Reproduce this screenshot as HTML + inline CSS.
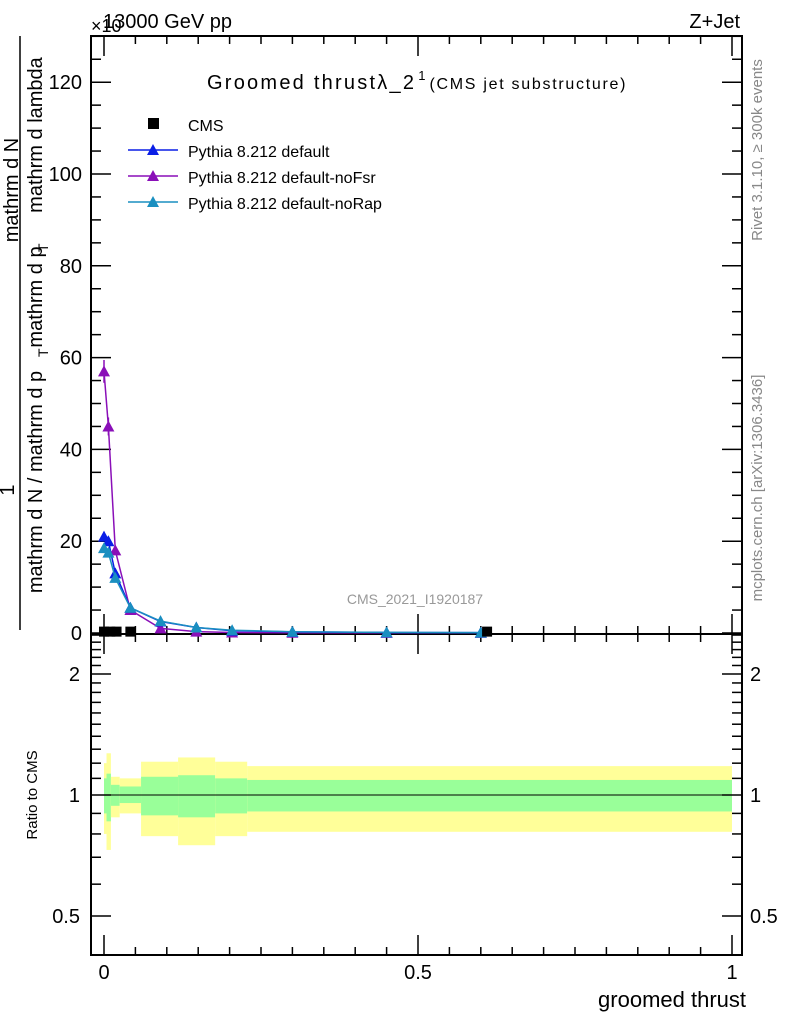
<!DOCTYPE html>
<html><head><meta charset="utf-8"><style>
body{margin:0;background:#fff}
svg{font-family:"Liberation Sans",sans-serif}
</style></head><body>
<svg id="c" width="786" height="1024" xmlns="http://www.w3.org/2000/svg"></svg>
<script>
const xCenters=[0.0,0.007,0.018,0.042,0.09,0.147,0.204,0.3,0.45,0.6];
const purpleVals=[57,45,18,5,1,0.3,0.1,0.05,0.03,0.02];
const blueVals=[21,20,13,5.5,2.5,1.2,0.5,0.25,0.12,0.08];
const cyanVals=[18.5,17.5,12,5.5,2.6,1.2,0.6,0.28,0.13,0.09];
const cmsX=[0.0,0.01,0.02,0.042,0.61];
const cmsVals=[0.3,0.3,0.3,0.3,0.3];
const binEdges=[0,0.004,0.011,0.025,0.059,0.118,0.177,0.228,1];
const yelHi=[1.2,1.27,1.11,1.1,1.21,1.24,1.21,1.18];
const yelLo=[0.8,0.73,0.88,0.9,0.79,0.75,0.79,0.81];
const grnHi=[1.1,1.13,1.06,1.05,1.11,1.12,1.1,1.09];
const grnLo=[0.9,0.86,0.94,0.955,0.89,0.88,0.9,0.91];
const yTicks=[0,20,40,60,80,100,120];
const xTicks=[0,0.5,1];
const xTickLabels=["0","0.5","1"];
const rTicks=[0.5,1,2];

const NS="http://www.w3.org/2000/svg";
const svg=document.getElementById('c');
const L=91,R=742,T=36,MB=634,RB=955;
const X=v=>104+628*v;
const Y=v=>633-4.59*v;
const RY=r=>795-121*Math.log2(r);
function mk(t,a,p){const e=document.createElementNS(NS,t);for(const k in a)e.setAttribute(k,a[k]);(p||svg).appendChild(e);return e;}
function txt(s,x,y,a,p){const e=mk('text',Object.assign({x:x,y:y},a||{}),p);e.textContent=s;return e;}

for(let i=0;i<binEdges.length-1;i++){
 const x0=X(binEdges[i]),x1=X(binEdges[i+1]);
 let e=mk('rect',{x:x0,y:RY(yelHi[i]),width:x1-x0,height:RY(yelLo[i])-RY(yelHi[i]),fill:'#ffff99'});
 
 e=mk('rect',{x:x0,y:RY(grnHi[i]),width:x1-x0,height:RY(grnLo[i])-RY(grnHi[i]),fill:'#99ff99'});
 
}
mk('line',{x1:X(0),x2:X(1),y1:RY(1),y2:RY(1),stroke:'#000','stroke-width':1});

for(const [t,b] of [[T,MB],[MB,RB]]){const f=mk('rect',{x:L,y:t,width:R-L,height:b-t,fill:'none',stroke:'#000','stroke-width':2});}
for(let k=0;k<=20;k++){const v=k*0.05,x=X(v),maj=(k%10==0),len=maj?20:8;
 for(const [t,b] of [[T,MB],[MB,RB]]){mk('line',{x1:x,x2:x,y1:b,y2:b-len,stroke:'#000','stroke-width':1.5});mk('line',{x1:x,x2:x,y1:t,y2:t+len,stroke:'#000','stroke-width':1.5});}}
xTicks.forEach((v,i)=>{const e=txt(xTickLabels[i],X(v),979,{'font-size':20,'text-anchor':'middle'});});
for(let v=0;v<=130;v+=5){const y=Y(v),maj=v%20==0,len=maj?20:10;
 mk('line',{x1:L,x2:L+len,y1:y,y2:y,stroke:'#000','stroke-width':1.5});mk('line',{x1:R,x2:R-len,y1:y,y2:y,stroke:'#000','stroke-width':1.5});}
yTicks.forEach(v=>{const e=txt(String(v),82,Y(v)+7,{'font-size':20,'text-anchor':'end'});});
const minors=[0.5,0.6,0.7,0.8,0.9,1,1.1,1.2,1.3,1.4,1.5,1.6,1.7,1.8,1.9,2,2.1,2.2,2.3,2.4,2.5];
minors.forEach(r=>{const y=RY(r),maj=rTicks.includes(r),len=maj?20:10;if(y<MB||y>RB)return;
 mk('line',{x1:L,x2:L+len,y1:y,y2:y,stroke:'#000','stroke-width':1.5});mk('line',{x1:R,x2:R-len,y1:y,y2:y,stroke:'#000','stroke-width':1.5});});
rTicks.forEach(r=>{let e=txt(String(r),80,RY(r)+7,{'font-size':20,'text-anchor':'end'});
 e=txt(String(r),750,RY(r)+7,{'font-size':20});});

function series(vals,col,name){
 const pts=xCenters.map((x,i)=>X(x)+','+Y(vals[i])).join(' ');
 const g=mk('g',{});
 mk('polyline',{points:pts,fill:'none',stroke:col,'stroke-width':1.5},g);
 xCenters.forEach((x,i)=>{const cx=X(x),cy=Y(vals[i]);
  mk('line',{x1:cx,x2:cx,y1:cy-vals[i]*0.2,y2:cy+vals[i]*0.2,stroke:col,'stroke-width':1.5},g);
  mk('polygon',{points:`${cx-6},${cy+5} ${cx+6},${cy+5} ${cx},${cy-6}`,fill:col},g);});
}
series(purpleVals,'#8a0fb8','series-noFsr');
series(blueVals,'#0a1ee6','series-default');
series(cyanVals,'#1a8fc0','series-noRap');
cmsX.forEach((x,i)=>{const e=mk('rect',{x:X(x)-5,y:Y(cmsVals[i])-5,width:10,height:10,fill:'#000'});});

const leg=[['CMS','#000','sq'],['Pythia 8.212 default','#0a1ee6','tri'],['Pythia 8.212 default-noFsr','#8a0fb8','tri'],['Pythia 8.212 default-noRap','#1a8fc0','tri']];
leg.forEach((l,i)=>{const y=124+26*i;const g=mk('g',{});
 if(l[2]=='sq')mk('rect',{x:148,y:y-6,width:11,height:11,fill:'#000'},g);
 else{mk('line',{x1:128,x2:178,y1:y,y2:y,stroke:l[1],'stroke-width':1.5},g);mk('polygon',{points:`147,${y+5} 159,${y+5} 153,${y-6}`,fill:l[1]},g);}
 txt(l[0],188,y+7,{'font-size':16,fill:'#000'},g);});

let e;
e=mk('text',{x:207,y:89,'font-size':20});
e.innerHTML='<tspan textLength="207" lengthAdjust="spacing">Groomed thrust\u03bb_2</tspan><tspan dy="-9" font-size="13" dx="2">1</tspan><tspan dy="9" font-size="16" dx="4" textLength="196" lengthAdjust="spacing">(CMS jet substructure)</tspan>';
e=txt('13000 GeV pp',103,28,{'font-size':20});
txt('\u00d710',91,32,{'font-size':18});
e=txt('Z+Jet',740,28,{'font-size':20,'text-anchor':'end'});
e=txt('CMS_2021_I1920187',415,604,{'font-size':14,fill:'#999','text-anchor':'middle'});
e=txt('groomed thrust',746,1007,{'font-size':22,'text-anchor':'end'});
e=txt('Ratio to CMS',37,795,{'font-size':15,'text-anchor':'middle',transform:'rotate(-90 37 795)'});
e=txt('Rivet 3.1.10, \u2265 300k events',762,150,{'font-size':15,fill:'#888','text-anchor':'middle',transform:'rotate(-90 762 150)'});
e=txt('mcplots.cern.ch [arXiv:1306.3436]',762,488,{'font-size':15,fill:'#888','text-anchor':'middle',transform:'rotate(-90 762 488)'});
const yt=mk('g',{});
txt('1',14,490,{'font-size':20,'text-anchor':'middle',transform:'rotate(-90 14 490)'},yt);
mk('line',{x1:20,x2:20,y1:630,y2:36,stroke:'#000','stroke-width':1.5},yt);
txt('mathrm d N / mathrm d p',42,482,{'font-size':20,'text-anchor':'middle',transform:'rotate(-90 42 482)'},yt);
txt('T',48,357,{'font-size':14,transform:'rotate(-90 48 357)'},yt);
txt('mathrm d N',18,190,{'font-size':20,'text-anchor':'middle',transform:'rotate(-90 18 190)'},yt);
txt('mathrm d p',42,297,{'font-size':20,'text-anchor':'middle',transform:'rotate(-90 42 297)'},yt);
txt('T',48,252,{'font-size':14,transform:'rotate(-90 48 252)'},yt);
txt('mathrm d lambda',42,135,{'font-size':20,'text-anchor':'middle',transform:'rotate(-90 42 135)'},yt);
</script>
</body></html>
